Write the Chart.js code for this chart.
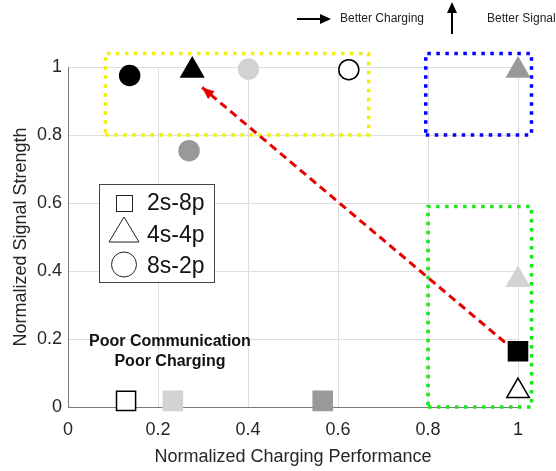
<!DOCTYPE html>
<html>
<head>
<meta charset="utf-8">
<script src="https://cdn.jsdelivr.net/npm/chart.js@4.4.1/dist/chart.umd.min.js"></script>
<style>
html, body { margin: 0; padding: 0; background: #fff; }
#wrap { position: relative; width: 556px; height: 471px; }
</style>
</head>
<body>
<div id="wrap"><canvas id="chart" width="556" height="471"></canvas></div>
<script>
// Battery configurations (one marker shape each) and the four marker variants
const configs = ['2s-8p', '4s-4p', '8s-2p'];
const shapes = ['rect', 'triangle', 'circle'];
const fills = ['#000000', '#ffffff', '#d3d3d3', '#999999'];
const edges = ['#000000', '#000000', '#d3d3d3', '#999999'];

// x = normalized charging performance, y = normalized signal strength
const squareX = [1.0, 0.129, 0.233, 0.566];
const squareY = [0.164, 0.018, 0.018, 0.018];
const triangleX = [0.276, 1.0, 1.0, 1.0];
const triangleY = [0.99, 0.047, 0.374, 0.99];
const circleX = [0.137, 0.624, 0.401, 0.269];
const circleY = [0.975, 0.992, 0.994, 0.754];

// highlighted regions (dotted boxes)
const yellowBoxX = [0.083, 0.668];
const yellowBoxY = [0.8, 1.04];
const blueBoxX = [0.795, 1.03];
const blueBoxY = [0.8, 1.04];
const greenBoxX = [0.8, 1.03];
const greenBoxY = [0, 0.59];

// red trend arrow (tail -> tip)
const arrowX = [0.971, 0.298];
const arrowY = [0.19, 0.94];

const tickValues = [0, 0.2, 0.4, 0.6, 0.8, 1];
const xTitle = 'Normalized Charging Performance';
const yTitle = 'Normalized Signal Strength';
const regionNote = ['Poor Communication', 'Poor Charging'];
const hints = ['Better Charging', 'Better Signal'];

const FONT = "'Liberation Sans', Arial, sans-serif";

function toPoints(xs, ys) {
    return xs.map((x, i) => ({ x: x, y: ys[i] }));
}

function boxPoints(xs, ys) {
    return [
        { x: xs[0], y: ys[0] }, { x: xs[1], y: ys[0] },
        { x: xs[1], y: ys[1] }, { x: xs[0], y: ys[1] },
        { x: xs[0], y: ys[0] }
    ];
}

function markerSet(label, xs, ys, shape, radius) {
    return {
        type: 'scatter',
        label: label,
        data: toPoints(xs, ys),
        pointStyle: shape,
        pointRadius: radius,
        backgroundColor: fills,
        borderColor: edges,
        borderWidth: 1.5,
        clip: false,
        order: 1
    };
}

function boxSet(xs, ys, color) {
    return {
        type: 'line',
        data: boxPoints(xs, ys),
        borderColor: color,
        borderWidth: 3.5,
        borderDash: [3.5, 5.5],
        pointRadius: 0,
        fill: false,
        tension: 0,
        clip: false,
        order: 3
    };
}

// arrowhead, legend and text notes
const extras = {
    id: 'extras',
    afterDatasetsDraw(chart) {
        const ctx = chart.ctx;
        const sx = chart.scales.x, sy = chart.scales.y;

        // red arrow head
        const x0 = sx.getPixelForValue(arrowX[0]), y0 = sy.getPixelForValue(arrowY[0]);
        const x1 = sx.getPixelForValue(arrowX[1]), y1 = sy.getPixelForValue(arrowY[1]);
        const ang = Math.atan2(y1 - y0, x1 - x0);
        ctx.save();
        ctx.fillStyle = '#e60000';
        ctx.beginPath();
        ctx.moveTo(x1, y1);
        ctx.lineTo(x1 - 12 * Math.cos(ang) + 5 * Math.sin(ang), y1 - 12 * Math.sin(ang) - 5 * Math.cos(ang));
        ctx.lineTo(x1 - 12 * Math.cos(ang) - 5 * Math.sin(ang), y1 - 12 * Math.sin(ang) + 5 * Math.cos(ang));
        ctx.closePath();
        ctx.fill();
        ctx.restore();

        // legend box
        ctx.save();
        ctx.fillStyle = '#ffffff';
        ctx.fillRect(99.5, 184.5, 115, 98);
        ctx.strokeStyle = '#444';
        ctx.lineWidth = 1;
        ctx.strokeRect(99.5, 184.5, 115, 98);
        ctx.strokeStyle = '#222';
        ctx.lineWidth = 1;
        // square
        ctx.strokeRect(116.5, 195.5, 16, 16);
        // triangle
        ctx.beginPath();
        ctx.moveTo(124, 217);
        ctx.lineTo(139, 242);
        ctx.lineTo(109, 242);
        ctx.closePath();
        ctx.stroke();
        // circle
        ctx.beginPath();
        ctx.arc(124, 264.5, 12.5, 0, Math.PI * 2);
        ctx.stroke();
        ctx.fillStyle = '#111';
        ctx.font = '23px ' + FONT;
        ctx.textAlign = 'left';
        ctx.textBaseline = 'alphabetic';
        const rowBase = [210, 242, 273];
        configs.forEach((c, i) => ctx.fillText(c, 147, rowBase[i]));
        ctx.restore();

        // region note
        ctx.save();
        ctx.fillStyle = '#111';
        ctx.font = 'bold 16px ' + FONT;
        ctx.textAlign = 'center';
        ctx.textBaseline = 'alphabetic';
        ctx.fillText(regionNote[0], 170, 346);
        ctx.fillText(regionNote[1], 170, 366);
        ctx.restore();

        // direction hints above the plot
        ctx.save();
        ctx.strokeStyle = '#000';
        ctx.fillStyle = '#000';
        ctx.lineWidth = 2;
        ctx.beginPath();
        ctx.moveTo(297, 19);
        ctx.lineTo(323, 19);
        ctx.stroke();
        ctx.beginPath();
        ctx.moveTo(331, 19);
        ctx.lineTo(320, 14);
        ctx.lineTo(320, 24);
        ctx.closePath();
        ctx.fill();
        ctx.beginPath();
        ctx.moveTo(452, 34);
        ctx.lineTo(452, 10);
        ctx.stroke();
        ctx.beginPath();
        ctx.moveTo(452, 2);
        ctx.lineTo(447, 13);
        ctx.lineTo(457, 13);
        ctx.closePath();
        ctx.fill();
        ctx.fillStyle = '#222';
        ctx.font = '12px ' + FONT;
        ctx.textAlign = 'left';
        ctx.textBaseline = 'middle';
        ctx.fillText(hints[0], 340, 19);
        ctx.fillText(hints[1], 487, 19);
        ctx.restore();
    }
};

function fmtTick(v) {
    return String(Math.round(v * 10) / 10);
}

new Chart(document.getElementById('chart'), {
    data: {
        datasets: [
            markerSet(configs[0], squareX, squareY, shapes[0], 13.5),
            markerSet(configs[1], triangleX, triangleY, shapes[1], 13),
            markerSet(configs[2], circleX, circleY, shapes[2], 10),
            {
                type: 'line',
                data: toPoints(arrowX, arrowY),
                borderColor: '#e60000',
                borderWidth: 3,
                borderDash: [8, 5],
                pointRadius: 0,
                fill: false,
                clip: false,
                order: 2
            },
            boxSet(yellowBoxX, yellowBoxY, '#f0f000'),
            boxSet(blueBoxX, blueBoxY, '#0000ff'),
            boxSet(greenBoxX, greenBoxY, '#19e619')
        ]
    },
    options: {
        responsive: false,
        animation: false,
        events: [],
        layout: { padding: { top: 67, right: 38, left: 0, bottom: 0 } },
        plugins: {
            legend: { display: false },
            tooltip: { enabled: false }
        },
        scales: {
            x: {
                type: 'linear',
                min: 0,
                max: 1,
                afterBuildTicks: axis => { axis.ticks = tickValues.map(v => ({ value: v })); },
                afterFit: axis => { axis.height = 64; },
                grid: { color: '#dedede', drawTicks: false },
                border: { color: '#7a7a7a' },
                ticks: {
                    padding: 12,
                    color: '#262626',
                    maxRotation: 0,
                    font: { family: FONT, size: 18 },
                    callback: v => fmtTick(v)
                },
                title: {
                    display: true,
                    text: xTitle,
                    color: '#262626',
                    font: { family: FONT, size: 18 },
                    padding: { top: 0, bottom: 3 }
                }
            },
            y: {
                type: 'linear',
                min: 0,
                max: 1,
                afterBuildTicks: axis => { axis.ticks = tickValues.map(v => ({ value: v })); },
                afterFit: axis => { axis.width = 68; },
                grid: { color: '#dedede', drawTicks: false },
                border: { color: '#7a7a7a' },
                ticks: {
                    padding: 6,
                    color: '#262626',
                    font: { family: FONT, size: 18 },
                    callback: v => fmtTick(v)
                },
                title: {
                    display: true,
                    text: yTitle,
                    color: '#262626',
                    font: { family: FONT, size: 18 },
                    padding: { top: 10, bottom: 0 }
                }
            }
        }
    },
    plugins: [extras]
});
</script>
</body>
</html>
